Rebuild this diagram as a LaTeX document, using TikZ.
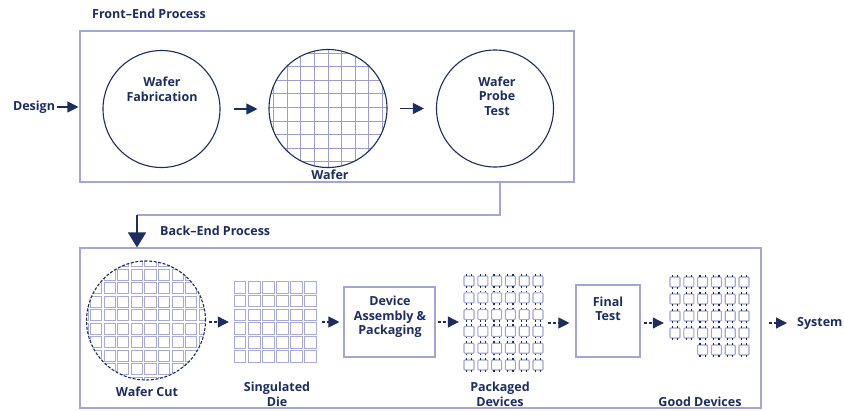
\documentclass[tikz,border=0pt]{standalone}
\usepackage{fontspec}
\setmainfont{Open Sans}
\usetikzlibrary{arrows.meta}
\definecolor{navy}{HTML}{1C2E60}
\definecolor{lav}{HTML}{A4A4D6}
\definecolor{gridlav}{HTML}{9C9CD0}
\definecolor{celllav}{HTML}{A9A9DA}

\begin{document}
\begin{tikzpicture}[x=1pt,y=-1pt,
  lbl/.style={font=\bfseries\fontsize{12.5}{14.5}\selectfont, text=navy, inner sep=0pt, align=center},
  panel/.style={draw=lav, line width=1.1pt},
  procbox/.style={draw=lav, line width=1.1pt, inner sep=0pt},
  disc/.style={circle, draw=navy, line width=1.1pt, inner sep=0pt},
  region/.style={inner sep=0pt},
  gridline/.style={draw=gridlav, line width=0.9pt},
  cell/.style={draw=celllav, line width=1pt},
  flow/.style={draw=navy, line width=1.1pt, -{Triangle[length=11pt,width=11pt]}},
  cutflow/.style={flow, dash pattern=on 3pt off 2pt},
  feed/.style={draw=lav, line width=1.1pt},
  chip/.pic={
    \draw[draw=lav, line width=1.1pt, rounded corners=1pt] (-5,-5) rectangle (5,5);
    \foreach \px in {-2.6,2.6} {
      \draw[navy, line width=1.1pt] (\px,5.4) -- (\px,7);
      \draw[navy, line width=1.1pt] (\px,-5.4) -- (\px,-7);
    }
  }
]
\useasboundingbox[fill=white] (0,0) rectangle (844,410);

% ---------- front-end panel ----------
\node[lbl, anchor=west] (fetitle) at (92,14) {Front--End Process};
\node[panel, region, minimum width=494pt, minimum height=151pt] (front) at (327,106.5) {};

\node[lbl] (design) at (34,107) {Design};

% wafer fabrication
\node[disc, minimum size=117pt] (fab) at (161.5,109) {};
\node[lbl] (fabtxt) at (162,89.5) {Wafer\\Fabrication};

% patterned wafer: die grid clipped to the disc
\begin{scope}
  \clip (328,108.5) circle[radius=59];
  \foreach \k in {-4,...,4} {
    \draw[gridline] ({328+13.6*\k},40) -- ++(0,140);
    \draw[gridline] (260,{107.5+13.6*\k}) -- ++(140,0);
  }
\end{scope}
\node[disc, minimum size=118pt] (wafer) at (328,108.5) {};
\node[lbl] (wafertxt) at (330,175) {Wafer};

% wafer probe test
\node[disc, minimum size=117pt] (probe) at (495,108.5) {};
\node[lbl] (probetxt) at (497,96) {Wafer\\Probe\\Test};

\draw[flow, shorten <=2pt, shorten >=1pt] (design.east) -- (design -| front.west);
\draw[flow, shorten <=13pt, shorten >=11pt] (fab) -- (fab -| wafer.west);
\draw[flow, shorten <=12pt, shorten >=12pt] (wafer) -- (wafer -| probe.west);

% ---------- hand-over to back end ----------
\coordinate (drop) at (500,182);
\coordinate (bend) at (137,215);
\node[lbl, anchor=west] (betitle) at (160,231) {Back--End Process};
\node[panel, region, minimum width=681pt, minimum height=160pt] (back) at (420.5,328) {};
\draw[feed] (drop) |- (bend);
\draw[draw=navy, line width=1.2pt, -{Triangle[length=15pt,width=18pt]}] (bend) -- (bend |- back.north);

% ---------- back-end panel ----------
% wafer after sawing
\begin{scope}
  \clip (146,320.5) circle[radius=59.5];
  \foreach \i in {-2,...,7} {
    \foreach \j in {-2,...,7} {
      \draw[cell] ({104+13.6*\i},{282.5+13.5*\j}) rectangle +(11.2,11.1);
    }
  }
\end{scope}
\node[disc, minimum size=119pt, dash pattern=on 3pt off 1.6pt] (cut) at (146,320.5) {};
\node[lbl] (cuttxt) at (147,392) {Wafer Cut};

% singulated die
\node[region, minimum width=85pt, minimum height=83pt] (die) at (275.5,322) {};
\foreach \i in {0,...,5} {
  \foreach \j in {0,...,5} {
    \draw[cell] ({234+14.17*\i},{281.5+13.8*\j}) rectangle +(11.9,11.6);
  }
}
\node[lbl] (dietxt) at (277,394.5) {Singulated\\Die};

% device assembly
\node[procbox, minimum width=91pt, minimum height=70pt] (dab) at (389.5,322) {};
\node[lbl] (dabtxt) at (390,317) {Device\\Assembly \&\\Packaging};

% packaged devices
\node[region, minimum width=81pt, minimum height=95pt] (pkg) at (503.5,322.5) {};
\foreach \i in {0,...,5} {
  \foreach \j in {0,...,5} {
    \pic at ({469+13.8*\i},{281+16.8*\j}) {chip};
  }
}
\node[lbl] (pkgtxt) at (500,394.5) {Packaged\\Devices};

% final test
\node[procbox, minimum width=64pt, minimum height=72pt] (fin) at (608,321) {};
\node[lbl] (fintxt) at (608,309) {Final\\Test};

% good devices
\node[region, minimum width=80pt, minimum height=80pt] (good) at (710,316) {};
\foreach \i in {0,1} {
  \foreach \j in {0,...,3} {
    \pic at ({675+13.8*\i},{282+17*\j}) {chip};
  }
}
\foreach \i in {2,...,5} {
  \foreach \j in {0,...,4} {
    \pic at ({675+13.8*\i},{282+17*\j}) {chip};
  }
}
\node[lbl] (goodtxt) at (700,402) {Good Devices};

\node[lbl, anchor=west] (sys) at (797,323) {System};

% flow along the back end
\draw[cutflow, shorten <=3pt, shorten >=4pt] (cut.east |- die.west) -- (die.west);
\draw[cutflow, shorten <=4pt, shorten >=4pt] (die.east) -- (dab.west |- die.east);
\draw[cutflow, shorten <=2pt, shorten >=4pt] (dab.east) -- (dab.east -| pkg.west);
\draw[cutflow, shorten <=4pt, shorten >=6pt] (pkg.east |- 0,323) -- (fin.west |- 0,323);
\draw[cutflow, shorten <=3pt, shorten >=6pt] (fin.east |- 0,323) -- (good.west |- 0,323);
\draw[cutflow, shorten <=7pt, shorten >=10pt] (back.east |- sys) -- (sys.west);
\end{tikzpicture}
\end{document}
